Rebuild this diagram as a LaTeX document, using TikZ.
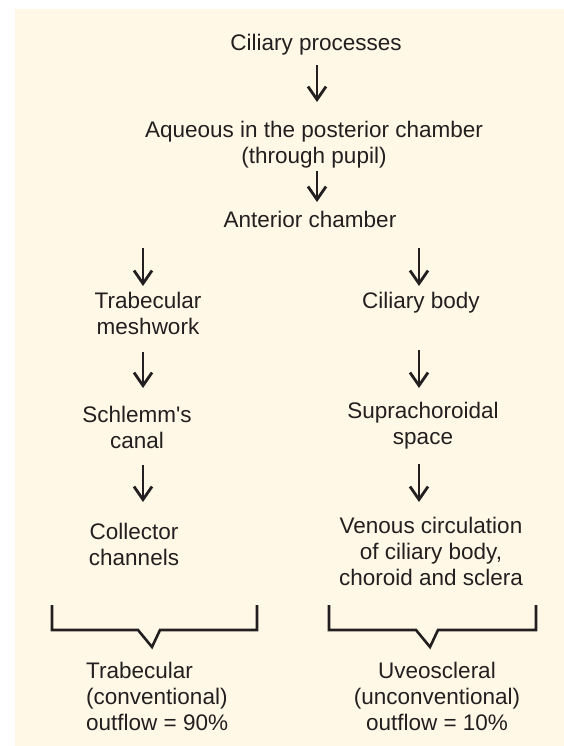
\documentclass[tikz,border=0pt]{standalone}
\usepackage{fontspec}
\setmainfont{Liberation Sans}
\usetikzlibrary{arrows.meta}
\definecolor{inkc}{HTML}{231F20}
\definecolor{creambg}{HTML}{FFF8E6}
\tikzset{
  ar/.style={-{Straight Barb[length=13pt,width=18pt]},line width=2.8pt,draw=inkc},
  lbl/.style={align=center,inner sep=0pt,text=inkc,anchor=north,font=\fontsize{22.5}{26}\selectfont},
  brk/.style={line width=2.6pt,draw=inkc,line join=miter}
}
\begin{document}
\begin{tikzpicture}[x=1pt,y=-1pt]
\useasboundingbox (0,0) rectangle (564,746);
\fill[creambg] (15,9) rectangle (564,746);
\coordinate (colM) at (317,0); \coordinate (colL) at (143,0); \coordinate (colR) at (419,0);
% main stem
\node[lbl] (cp) at (316,34) {Ciliary processes};
\node[lbl] (aq) at (314,121) {Aqueous in the posterior chamber\\(through pupil)};
\node[lbl] (ac) at (310,211) {Anterior chamber};
% trabecular route
\node[lbl] (tm) at (148,292) {Trabecular\\meshwork};
\node[lbl] (sc) at (137,406) {Schlemm\textquotesingle s\\canal};
\node[lbl] (cc) at (134,523) {Collector\\channels};
% uveoscleral route
\node[lbl] (cb) at (421,292) {Ciliary body};
\node[lbl] (ss) at (423,402) {Suprachoroidal\\space};
\node[lbl] (vc) at (431,517) {Venous circulation\\of ciliary body,\\choroid and sclera};
% outflow totals
\node[lbl,align=left,anchor=north west] (to) at (86,662) {Trabecular\\(conventional)\\outflow = 90\%};
\node[lbl] (uo) at (437,662) {Uveoscleral\\(unconventional)\\outflow = 10\%};
\draw[ar,shorten <=10pt,shorten >=19pt] (cp.south -| colM) -- (aq.north -| colM);
\draw[ar,shorten <=3pt,shorten >=9pt] (aq.south -| colM) -- (ac.north -| colM);
\draw[ar,shorten <=20pt,shorten >=6pt] (ac.south -| colL) -- (tm.north -| colL);
\draw[ar,shorten <=20pt,shorten >=6pt] (ac.south -| colR) -- (cb.north -| colR);
\draw[ar,shorten <=17pt,shorten >=18pt] (tm.south -| colL) -- (sc.north -| colL);
\draw[ar,shorten <=37pt,shorten >=14pt] (cb.south -| colR) -- (ss.north -| colR);
\draw[ar,shorten <=16pt,shorten >=21pt] (sc.south -| colL) -- (cc.north -| colL);
\draw[ar,shorten <=15pt,shorten >=15pt] (ss.south -| colR) -- (vc.north -| colR);
% braces
\draw[brk] (52,605) -- (52,630) -- (138,630) -- (152,647) -- (160,630) -- (257,630) -- (257,605);
\draw[brk] (329,605) -- (329,630) -- (416,630) -- (430,647) -- (438,630) -- (536,630) -- (536,605);
\end{tikzpicture}
\end{document}
